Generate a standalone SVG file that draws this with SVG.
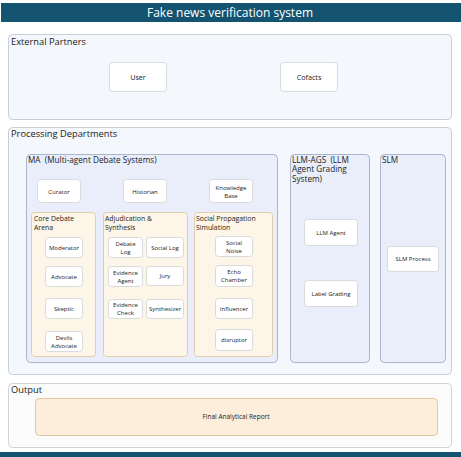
<svg xmlns="http://www.w3.org/2000/svg" width="461" height="457" viewBox="0 0 461 457">
<style>
text{font-family:"Open Sans","Noto Sans","Liberation Sans",sans-serif;fill:#222}
.sec{fill:#f4f7fb;stroke:#c9ced6;stroke-width:1}
.out{fill:#fbfbfb;stroke:#d3d3d3;stroke-width:1}
.sub{fill:#e9eefa;stroke:#a8b5cc;stroke-width:1}
.grp{fill:#fdf6e8;stroke:#dfcfae;stroke-width:1}
.node{fill:#ffffff;stroke:#d9dadc;stroke-width:1}
.rep{fill:#fdeedb;stroke:#dfc7a0;stroke-width:1}
.h1{font-size:9.3px}
.h2{font-size:8.2px}
.h3{font-size:6.9px}
.n{font-size:6px;text-anchor:middle}
.nb{font-size:7.2px;text-anchor:middle}
</style>
<rect x="0" y="0" width="461" height="457" fill="#ffffff"/>
<g id="title">
<rect x="1" y="3" width="460" height="19" fill="#145471"/>
<text x="230" y="17" font-size="12.3" text-anchor="middle" style="fill:#ffffff" textLength="166" lengthAdjust="spacingAndGlyphs">Fake news verification system</text>
</g>
<g id="external">
<rect class="sec" x="8.5" y="34.5" width="443" height="85" rx="4"/>
<text class="h1" x="11" y="45">External Partners</text>
<g id="user"><rect class="node" x="109.5" y="62.5" width="57" height="29" rx="3"/><text class="nb" x="138" y="79.5">User</text></g>
<g id="cofacts"><rect class="node" x="280.5" y="62.5" width="57" height="29" rx="3"/><text class="nb" x="309" y="79.5">Cofacts</text></g>
</g>
<g id="processing">
<rect class="sec" x="8.5" y="127.5" width="443" height="247" rx="4"/>
<text class="h1" x="11" y="137">Processing Departments</text>
<g id="ma">
<rect class="sub" x="26.5" y="154.5" width="251" height="208" rx="4"/>
<text class="h2" x="28" y="163">MA&#160; (Multi-agent Debate Systems)</text>
<g id="curator"><rect class="node" x="37.5" y="179.5" width="43" height="23" rx="3"/><text class="n" x="59" y="193.5">Curator</text></g>
<g id="historian"><rect class="node" x="123.5" y="179.5" width="43" height="23" rx="3"/><text class="n" x="145" y="193.5">Historian</text></g>
<g id="kb"><rect class="node" x="209.5" y="179.5" width="43" height="23" rx="3"/><text class="n" x="231" y="189.5">Knowledge</text><text class="n" x="231" y="197.5">Base</text></g>
<g id="core">
<rect class="grp" x="31.5" y="212.5" width="64" height="144" rx="3"/>
<text class="h3" x="34" y="220.5">Core Debate</text><text class="h3" x="34" y="229.5">Arena</text>
<g id="moderator"><rect class="node" x="45.5" y="237.5" width="37" height="20" rx="3"/><text class="n" x="64" y="249.5">Moderator</text></g>
<g id="advocate"><rect class="node" x="45.5" y="266.5" width="37" height="20" rx="3"/><text class="n" x="64" y="278.5">Advocate</text></g>
<g id="skeptic"><rect class="node" x="45.5" y="298.5" width="37" height="20" rx="3"/><text class="n" x="64" y="310.5">Skeptic</text></g>
<g id="devils"><rect class="node" x="45.5" y="331.5" width="37" height="20" rx="3"/><text class="n" x="64" y="339.5">Devils</text><text class="n" x="64" y="347.5">Advocate</text></g>
</g>
<g id="adjudication">
<rect class="grp" x="103.5" y="212.5" width="84" height="144" rx="3"/>
<text class="h3" x="105" y="220.5">Adjudication &amp;</text><text class="h3" x="105" y="229.5">Synthesis</text>
<g id="debatelog"><rect class="node" x="108.5" y="237.5" width="34" height="20" rx="3"/><text class="n" x="125.5" y="245.5">Debate</text><text class="n" x="125.5" y="253.5">Log</text></g>
<g id="sociallog"><rect class="node" x="146.5" y="237.5" width="37" height="20" rx="3"/><text class="n" x="165" y="249.5">Social Log</text></g>
<g id="evagent"><rect class="node" x="108.5" y="266.5" width="34" height="20" rx="3"/><text class="n" x="125.5" y="274.5">Evidence</text><text class="n" x="125.5" y="282.5">Agent</text></g>
<g id="jury"><rect class="node" x="146.5" y="266.5" width="37" height="19" rx="3"/><text class="n" x="165" y="278">Jury</text></g>
<g id="evcheck"><rect class="node" x="108.5" y="299.5" width="34" height="19" rx="3"/><text class="n" x="125.5" y="307">Evidence</text><text class="n" x="125.5" y="315">Check</text></g>
<g id="synth"><rect class="node" x="146.5" y="299.5" width="37" height="19" rx="3"/><text class="n" x="165" y="311">Synthesizer</text></g>
</g>
<g id="social">
<rect class="grp" x="194.5" y="212.5" width="78" height="144" rx="3"/>
<text class="h3" x="196" y="220.5">Social Propagation</text><text class="h3" x="196" y="229.5">Simulation</text>
<g id="noise"><rect class="node" x="215.5" y="236.5" width="37" height="20" rx="3"/><text class="n" x="234" y="244.5">Social</text><text class="n" x="234" y="252.5">Noise</text></g>
<g id="echo"><rect class="node" x="215.5" y="265.5" width="37" height="21" rx="3"/><text class="n" x="234" y="274">Echo</text><text class="n" x="234" y="282">Chamber</text></g>
<g id="influencer"><rect class="node" x="215.5" y="298.5" width="37" height="20" rx="3"/><text class="n" x="234" y="310.5">Influencer</text></g>
<g id="disruptor"><rect class="node" x="215.5" y="329.5" width="37" height="21" rx="3"/><text class="n" x="234" y="342">disruptor</text></g>
</g>
</g>
<g id="llmags">
<rect class="sub" x="290.5" y="154.5" width="79" height="208" rx="4"/>
<text class="h2" x="292" y="162.5">LLM-AGS&#160; (LLM</text><text class="h2" x="292" y="172">Agent Grading</text><text class="h2" x="292" y="181.5">System)</text>
<g id="llmagent"><rect class="node" x="304.5" y="219.5" width="53" height="26" rx="3"/><text class="n" x="331" y="234.5">LLM Agent</text></g>
<g id="labelgrading"><rect class="node" x="304.5" y="280.5" width="53" height="26" rx="3"/><text class="n" x="331" y="295.5">Label Grading</text></g>
</g>
<g id="slm">
<rect class="sub" x="380.5" y="154.5" width="65" height="208" rx="4"/>
<text class="h2" x="382" y="163">SLM</text>
<g id="slmprocess"><rect class="node" x="387.5" y="246.5" width="51" height="25" rx="3"/><text class="n" x="413" y="261">SLM Process</text></g>
</g>
</g>
<g id="output">
<rect class="out" x="8.5" y="383.5" width="443" height="64" rx="4"/>
<text class="h1" x="11" y="393">Output</text>
<g id="report"><rect class="rep" x="35.5" y="398.5" width="402" height="37" rx="4"/><text class="n" x="236" y="419" style="font-size:6.5px">Final Analytical Report</text></g>
</g>
<rect x="0" y="452" width="461" height="5" fill="#145471"/>
<g id="connectors"></g>
</svg>
